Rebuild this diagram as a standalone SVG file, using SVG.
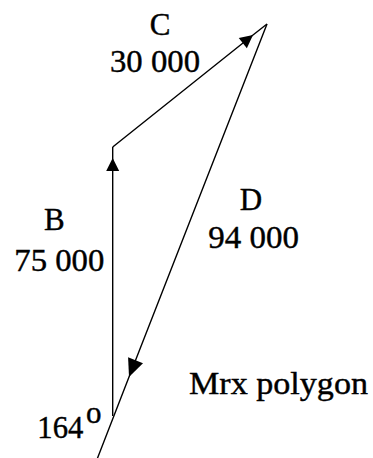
<svg xmlns="http://www.w3.org/2000/svg" width="373" height="458" viewBox="0 0 373 458">
<style>
.edge{fill:none;stroke:#000;stroke-width:1.4}
text{font-family:'Liberation Serif','Times New Roman',serif;font-size:31px;fill:#000;stroke:#000;stroke-width:0.4}
</style>
<defs>
<marker id="ah" markerUnits="userSpaceOnUse" markerWidth="16" markerHeight="16" viewBox="-14 -8 16 16" refX="0" refY="0" orient="auto">
<path d="M0,0 L-13,-6.5 L-13,6.5 z" fill="#000"/>
</marker>
<marker id="ahD" markerUnits="userSpaceOnUse" markerWidth="20" markerHeight="20" viewBox="-19 -10 20 20" refX="0" refY="0" orient="auto">
<path d="M0,0 L-18,-8 L-18,8 z" fill="#000"/>
</marker>
</defs>
<rect width="373" height="458" fill="#fff"/>
<g id="connectors">
<path id="B" class="edge" d="M112.7,416 L112.7,158 L112.7,147" marker-mid="url(#ah)"/>
<path id="C" class="edge" d="M112.7,147 L253,35 L267,24" marker-mid="url(#ah)"/>
<path id="D" class="edge" d="M267,24 L129,377 L96,462" marker-mid="url(#ahD)"/>
</g>
<g id="label-C"><text x="160" y="34.5" text-anchor="middle">C</text><text x="110" y="71.7" textLength="90" lengthAdjust="spacingAndGlyphs">30 000</text></g>
<g id="label-B"><text x="54.3" y="230" text-anchor="middle">B</text><text x="14.3" y="271" textLength="90" lengthAdjust="spacingAndGlyphs">75 000</text></g>
<g id="label-D"><text x="251" y="210" text-anchor="middle">D</text><text x="208.3" y="248.3" textLength="90.7" lengthAdjust="spacingAndGlyphs">94 000</text></g>
<g id="label-title"><text x="189" y="394.3" style="font-size:32px" textLength="179" lengthAdjust="spacingAndGlyphs">Mrx polygon</text></g>
<g id="label-angle"><text x="37.3" y="438.3" textLength="46" lengthAdjust="spacingAndGlyphs">164</text><text x="86" y="423.3">o</text></g>
</svg>
